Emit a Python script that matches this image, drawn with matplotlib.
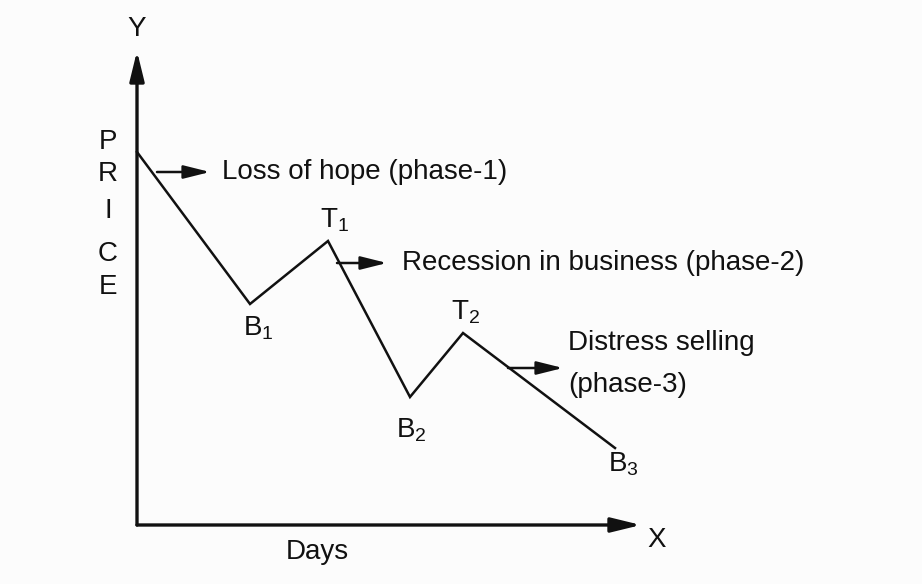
import matplotlib
matplotlib.use("Agg")
import matplotlib.pyplot as plt

plt.rcParams['font.family'] = ['Liberation Sans', 'DejaVu Sans']
plt.rcParams['mathtext.fontset'] = 'custom'
plt.rcParams['mathtext.rm'] = 'Liberation Sans'
plt.rcParams['mathtext.it'] = 'Liberation Sans'

# Price path (days, price) in diagram units, origin at axes corner
point_names = ["P", "B1", "T1", "B2", "T2", "B3"]
days = [0, 113, 191, 273, 326, 478]
price = [373, 221, 284, 128, 192, 77]

phase_labels = ["Loss of hope (phase-1)", "Recession in business (phase-2)",
                "Distress selling", "(phase-3)"]

fig = plt.figure(figsize=(9.22, 5.84), dpi=100, facecolor="#fcfcfc")
ax = fig.add_axes([0, 0, 1, 1])
ax.set_facecolor("#fcfcfc")
ax.set_xlim(-137, 785)
ax.set_ylim(-59, 525)
ax.axis("off")

ink = "#111111"
fs = 20

# axes arrows
arr = dict(arrowstyle="-|>,head_length=0.9,head_width=0.22", color=ink, lw=2.4,
           shrinkA=0, shrinkB=0, mutation_scale=20)
ax.annotate("", xy=(0, 474), xytext=(0, 0), arrowprops=arr)
ax.annotate("", xy=(504, 0), xytext=(0, 0), arrowprops=arr)
ax.text(0, 496, "Y", fontsize=fs, ha="center", va="center", color=ink)
ax.text(520, -15, "X", fontsize=fs, ha="center", va="center", color=ink)
ax.text(180, -27, "Days", fontsize=fs, ha="center", va="center", color=ink)
for ch, yy in zip("PRICE", [383, 351, 314, 271, 238]):
    ax.text(-29, yy, ch, fontsize=fs, ha="center", va="center", color=ink)

# price path
ax.plot(days, price, color=ink, lw=1.8, solid_joinstyle="miter")

# point labels
lab_off = {"B1": (8, -24), "T1": (7, 21), "B2": (1, -33), "T2": (3, 21), "B3": (8, -16)}
for n, x, y in zip(point_names, days, price):
    if n in lab_off:
        dx, dy = lab_off[n]
        ax.text(x + dx, y + dy, r"$\mathrm{%s}_{%s}$" % (n[0], n[1]), fontsize=fs,
                ha="center", va="center", color=ink)

# phase arrows
parr = dict(arrowstyle="-|>,head_length=0.8,head_width=0.2", color=ink, lw=1.8,
            shrinkA=0, shrinkB=0, mutation_scale=20)
phase_arrows = [((20, 353), (73, 353)), ((200, 262), (250, 262)), ((371, 157), (426, 157))]
text_pos = [(85, 353), (265, 262), (431, 182), (431, 140)]
for (a, b) in phase_arrows:
    ax.annotate("", xy=b, xytext=a, arrowprops=parr)
for (tx, ty), lab in zip(text_pos, phase_labels):
    ax.text(tx, ty, lab, fontsize=fs, ha="left", va="center", color=ink)

fig.savefig("out.png", dpi=100, facecolor=fig.get_facecolor())
